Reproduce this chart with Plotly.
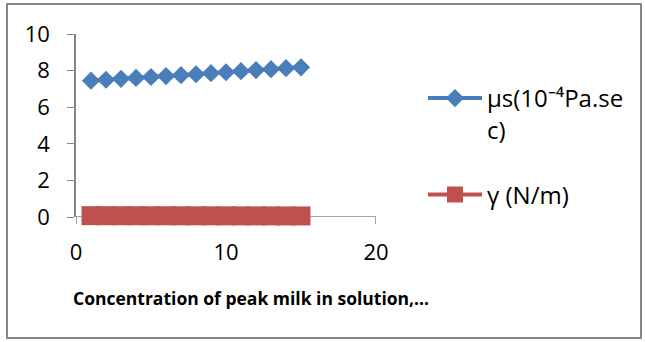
import plotly.graph_objects as go

# data
concentration = [1, 2, 3, 4, 5, 6, 7, 8, 9, 10, 11, 12, 13, 14, 15]
viscosity = [7.45, 7.5, 7.55, 7.6, 7.65, 7.7, 7.75, 7.8, 7.86, 7.91, 7.97, 8.03, 8.08, 8.13, 8.18]
surface_tension = [0.072, 0.071, 0.070, 0.069, 0.068, 0.067, 0.066, 0.065, 0.064, 0.063, 0.062, 0.061, 0.060, 0.059, 0.058]
series_names = ["µs(10⁻⁴Pa.se<br>c)", "γ (N/m)"]
x_title = "Concentration of peak milk in solution,…"
x_ticks = [0, 10, 20]
y_ticks = [0, 2, 4, 6, 8, 10]

W, H = 645, 342
L, R, T, B = 76, 269, 34, 125
pw, ph = W - L - R, H - T - B

def px2x(p):
    return (p - L) / pw

def px2y(p):
    return (H - B - p) / ph

FONT = "Open Sans"
blue = "#4a7ebb"
red = "#c0504d"
axis_col = "#868686"

fig = go.Figure()
fig.add_trace(go.Scatter(
    x=concentration, y=viscosity, name=series_names[0], legendgroup="a",
    mode="lines+markers", line=dict(color=blue, width=4), cliponaxis=False,
    marker=dict(symbol="diamond", size=14, color=blue),
))
fig.add_trace(go.Scatter(
    x=concentration, y=surface_tension, name=series_names[1], legendgroup="b",
    mode="lines+markers", line=dict(color=red, width=4), cliponaxis=False,
    marker=dict(symbol="square", size=19, color=red),
))

fig.update_layout(
    width=W, height=H,
    margin=dict(l=L, r=R, t=T, b=B),
    paper_bgcolor="white", plot_bgcolor="white",
    font=dict(family=FONT, size=22, color="black"),
    showlegend=True,
    legend=dict(
        x=px2x(423), y=px2y(76), xanchor="left", yanchor="top",
        valign="top", tracegroupgap=31, itemwidth=54,
        font=dict(family=FONT, size=24, color="black"),
        bgcolor="rgba(0,0,0,0)",
    ),
    xaxis=dict(
        range=[0, 20], tickvals=x_ticks, showgrid=False, zeroline=False,
        showline=False, ticks="", tickfont=dict(size=22),
        ticklabelstandoff=20,
    ),
    yaxis=dict(
        range=[0, 10], tickvals=y_ticks, showgrid=False, zeroline=False,
        showline=True, linecolor=axis_col, linewidth=1.5,
        ticks="outside", ticklen=7, tickcolor=axis_col, tickfont=dict(size=22),
        ticklabelstandoff=13,
    ),
    annotations=[dict(
        text="<b>" + x_title + "</b>", xref="paper", yref="paper",
        x=px2x(251), y=px2y(298), xanchor="center", yanchor="middle",
        showarrow=False, font=dict(family=FONT, size=17.5, color="black"),
    )],
)

# x axis line at y=0 with outward ticks
fig.add_shape(type="line", xref="paper", yref="y", x0=0, x1=1, y0=0, y1=0,
              line=dict(color=axis_col, width=1.5), layer="below")
for t in x_ticks:
    fig.add_shape(type="line", xref="x", yref="paper", x0=t, x1=t,
                  y0=0, y1=px2y(H - B + 7), line=dict(color=axis_col, width=1.5),
                  layer="below")

# chart border
fig.add_shape(type="rect", xref="paper", yref="paper",
              x0=px2x(7), x1=px2x(641), y0=px2y(338), y1=px2y(4),
              line=dict(color=axis_col, width=2), fillcolor="rgba(0,0,0,0)",
              layer="below")

fig.write_html("out.html", config={"displayModeBar": False},
               post_script="document.body.style.margin='0px';")
